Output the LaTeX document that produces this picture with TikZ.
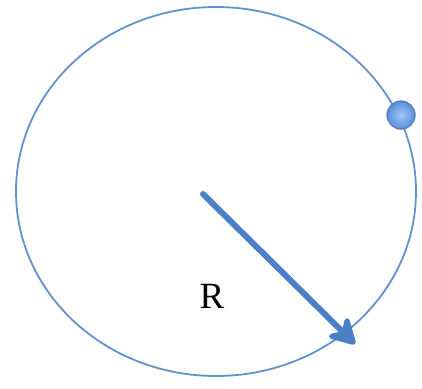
\documentclass[tikz,border=0pt]{standalone}
\usepackage{fontspec}
\setmainfont{Liberation Serif}
\usetikzlibrary{arrows.meta,shadows,shapes.geometric}
\definecolor{offblue}{RGB}{79,129,189}
\definecolor{orbitblue}{RGB}{96,146,206}
\definecolor{arrowblue}{RGB}{74,128,200}
\definecolor{balllight}{RGB}{160,200,248}
\definecolor{balldark}{RGB}{88,142,220}
\begin{document}
\begin{tikzpicture}[x=1pt,y=-1pt,
  orbit/.style={ellipse,draw=orbitblue,line width=1.8pt,inner sep=0pt,
    minimum width=400pt,minimum height=369pt},
  ball/.style={circle,minimum size=28pt,inner sep=0pt,draw=offblue,line width=1.2pt,
    shading=radial,inner color=balllight,outer color=balldark,
    drop shadow={shadow xshift=1pt,shadow yshift=-1.5pt,opacity=0.2}},
  radius arrow/.style={draw=arrowblue,line width=6pt,line cap=round,
    -{Stealth[length=32pt,width=36pt,inset=11pt,round,fill=arrowblue]}},
  lbl/.style={font=\fontsize{37}{40}\selectfont,inner sep=0pt}]
\useasboundingbox (0,0) rectangle (422,388);
\node[orbit] (orb) at (216,191.5) {};
\coordinate (c) at (203,194);
\coordinate (tip) at (355,344);
\draw[radius arrow] (c) -- (tip);
\node[ball] (b) at (401,115) {};
\node[lbl] (R) at (212,296) {R};
\end{tikzpicture}
\end{document}
